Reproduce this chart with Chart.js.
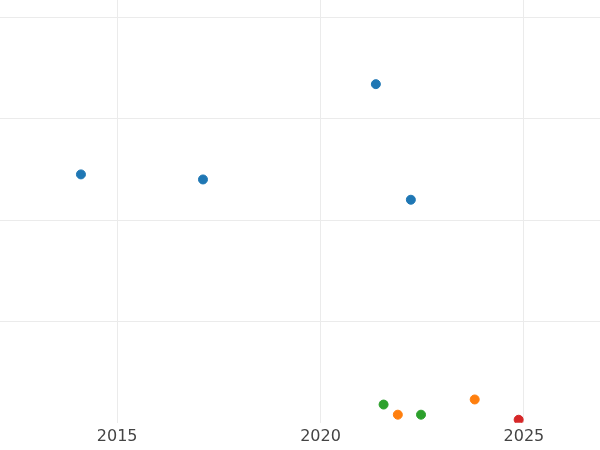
<!DOCTYPE html>
<html>
<head>
<script src="https://cdn.jsdelivr.net/npm/chart.js@4"></script>
<style>body{margin:0;background:#fff}#wrap{width:600px;height:450px}</style>
</head>
<body>
<div id="wrap"><canvas id="c"></canvas></div>
<script>
// values
const blueX = [2014.11, 2017.11, 2021.36, 2022.22];
const blueY = [2.45, 2.40, 3.34, 2.20];
const greenX = [2021.55, 2022.47];
const greenY = [0.18, 0.08];
const orangeX = [2021.90, 2023.79];
const orangeY = [0.08, 0.23];
const redX = [2024.87];
const redY = [0.03];
const xTicks = [2015, 2020, 2025];
const yTicks = [1, 2, 3, 4];

function pts(xs, ys) {
    return xs.map((x, i) => ({x: x, y: ys[i]}));
}
function series(xs, ys, color) {
    return {data: pts(xs, ys), backgroundColor: color, borderColor: color, pointRadius: 4.5, pointHoverRadius: 5};
}

new Chart(document.getElementById('c'), {
    type: 'scatter',
    data: {
        datasets: [
            series(blueX, blueY, '#1f77b4'),
            series(greenX, greenY, '#2ca02c'),
            series(orangeX, orangeY, '#ff7f0e'),
            series(redX, redY, '#d62728')
        ]
    },
    options: {
        responsive: true,
        maintainAspectRatio: false,
        animation: false,
        layout: {padding: 0, autoPadding: false},
        plugins: {legend: {display: false}, tooltip: {enabled: false}},
        scales: {
            x: {
                type: 'linear',
                min: 2012.12,
                max: 2026.87,
                afterBuildTicks: function(axis) {
                    axis.ticks = xTicks.map(v => ({value: v}));
                },
                grid: {color: '#ebebeb', drawTicks: false},
                border: {display: false},
                ticks: {color: '#444', font: {family: 'DejaVu Sans', size: 16}, padding: 4,
                    callback: v => String(v)}
            },
            y: {
                min: 0,
                max: 4.17,
                afterBuildTicks: function(axis) {
                    axis.ticks = yTicks.map(v => ({value: v}));
                },
                ticks: {display: false},
                grid: {color: '#ebebeb', drawTicks: false},
                border: {display: false}
            }
        }
    }
});
</script>
</body>
</html>
